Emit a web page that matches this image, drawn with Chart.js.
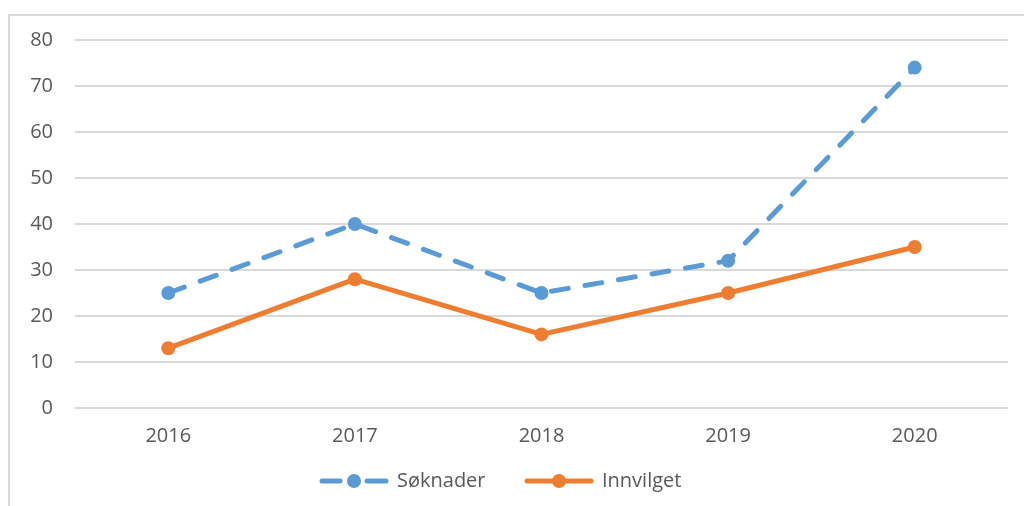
<!DOCTYPE html>
<html>
<head>
<meta charset="utf-8">
<script src="https://cdn.jsdelivr.net/npm/chart.js@4/dist/chart.umd.min.js"></script>
<style>
  html, body { margin: 0; padding: 0; background: #fff; }
  #wrap { position: relative; width: 1024px; height: 506px; overflow: hidden; }
  #frame { position: absolute; left: 8px; top: 14px; width: 1030px; height: 500px; border-left: 2px solid #d9d9d9; border-top: 2px solid #d9d9d9; box-sizing: border-box; }
  canvas { position: absolute; left: 0; top: 0; }
</style>
</head>
<body>
<div id="wrap">
  <div id="frame"></div>
  <canvas id="c" width="1024" height="506"></canvas>
</div>
<script>
const categories = ['2016', '2017', '2018', '2019', '2020'];
const soknader = [25, 40, 25, 32, 74];
const innvilget = [13, 28, 16, 25, 35];
const seriesNames = ['Søknader', 'Innvilget'];
const yTicks = [0, 10, 20, 30, 40, 50, 60, 70, 80];

const FONT = '"Open Sans", sans-serif';
const TXT = '#595959';
const BLUE = '#5B9BD5';
const ORANGE = '#ED7D31';

const legendPlugin = {
  id: 'customLegend',
  afterDraw(chart) {
    const ctx = chart.ctx;
    const y = 481;
    const items = [
      { name: seriesNames[0], color: BLUE, dash: true, x0: 320 },
      { name: seriesNames[1], color: ORANGE, dash: false, x0: 525 }
    ];
    ctx.save();
    items.forEach(it => {
      ctx.strokeStyle = it.color;
      ctx.fillStyle = it.color;
      ctx.lineWidth = 5;
      ctx.lineCap = 'round';
      if (it.dash) {
        ctx.beginPath(); ctx.moveTo(it.x0 + 2, y); ctx.lineTo(it.x0 + 20, y); ctx.stroke();
        ctx.beginPath(); ctx.moveTo(it.x0 + 47, y); ctx.lineTo(it.x0 + 66, y); ctx.stroke();
      } else {
        ctx.beginPath(); ctx.moveTo(it.x0 + 2, y); ctx.lineTo(it.x0 + 66, y); ctx.stroke();
      }
      ctx.beginPath(); ctx.arc(it.x0 + 34, y, 7, 0, Math.PI * 2); ctx.fill();
      ctx.fillStyle = TXT;
      ctx.font = '20px ' + FONT;
      ctx.textBaseline = 'middle';
      ctx.textAlign = 'left';
      ctx.fillText(it.name, it.x0 + 77, y);
    });
    ctx.restore();
  }
};

new Chart(document.getElementById('c'), {
  type: 'line',
  data: {
    labels: categories,
    datasets: [
      {
        label: seriesNames[0], data: soknader,
        borderColor: BLUE, backgroundColor: BLUE,
        borderWidth: 5, borderDash: [17, 17], borderCapStyle: 'round',
        pointRadius: 7, pointHoverRadius: 7, pointBackgroundColor: BLUE, pointBorderWidth: 0,
        tension: 0, fill: false
      },
      {
        label: seriesNames[1], data: innvilget,
        borderColor: ORANGE, backgroundColor: ORANGE,
        borderWidth: 5, borderCapStyle: 'round', borderJoinStyle: 'round',
        pointRadius: 7, pointHoverRadius: 7, pointBackgroundColor: ORANGE, pointBorderWidth: 0,
        tension: 0, fill: false
      }
    ]
  },
  options: {
    responsive: false,
    animation: false,
    layout: { padding: { left: 10, right: 16, top: 40, bottom: 48 } },
    plugins: { legend: { display: false }, tooltip: { enabled: false } },
    scales: {
      x: {
        offset: true,
        grid: { display: false, drawTicks: false },
        border: { display: false },
        ticks: { color: TXT, font: { family: FONT, size: 20 }, padding: 16 },
        afterFit(s) { s.height = 50; }
      },
      y: {
        min: 0, max: 80,
        afterBuildTicks(s) { s.ticks = yTicks.map(v => ({ value: v })); },
        grid: { color: '#d9d9d9', lineWidth: 2, drawTicks: false },
        border: { display: false },
        ticks: { color: TXT, font: { family: FONT, size: 20 }, padding: 22 },
        afterFit(s) { s.width = 65; }
      }
    }
  },
  plugins: [legendPlugin]
});
</script>
</body>
</html>
